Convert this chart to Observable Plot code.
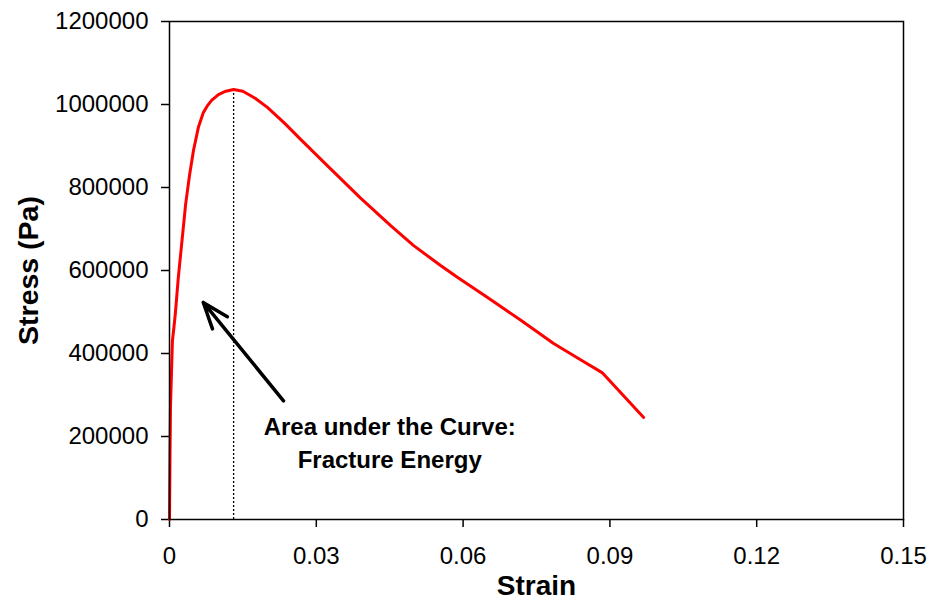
<!DOCTYPE html>
<html>
<head>
<meta charset="utf-8">
<script src="https://cdn.jsdelivr.net/npm/d3@7"></script>
<script src="https://cdn.jsdelivr.net/npm/@observablehq/plot@0.6"></script>
<style>
  html, body { margin: 0; padding: 0; background: #fff; }
  #chart svg { display: block; }
</style>
</head>
<body>
<div id="chart"></div>
<script>
const strain = [0, 0.0001, 0.0002, 0.0004, 0.0006, 0.0009, 0.0012, 0.0018, 0.0027, 0.0033, 0.0041, 0.0049, 0.0059, 0.0069, 0.0078, 0.0086, 0.0100, 0.0115, 0.0131, 0.0150, 0.0175, 0.0200, 0.0235, 0.0268, 0.0323, 0.0390, 0.0452, 0.0499, 0.0554, 0.0589, 0.0650, 0.0718, 0.0785, 0.0840, 0.0884, 0.0969];
const stress = [0, 150000, 270000, 352000, 431000, 462000, 497000, 583000, 689000, 760000, 830000, 889000, 945000, 980000, 998000, 1010000, 1024000, 1032000, 1036000, 1032000, 1015000, 993000, 955000, 916000, 852000, 775000, 708000, 660000, 612000, 583000, 535000, 480000, 424000, 385000, 354000, 246000];

const xTicks = [0, 0.03, 0.06, 0.09, 0.12, 0.15];
const yTicks = [0, 200000, 400000, 600000, 800000, 1000000, 1200000];

const peakStrain = [0.0131];
const peakStress = [1036000];

// annotation (in data units)
const arrowFrom = {strain: 0.0233, stress: 286000};
const arrowTo = {strain: 0.0069, stress: 523000};
const noteLines = ["Area under the Curve:", "Fracture Energy"];
const noteStrain = [0.045, 0.045];
const noteStress = [221000, 142000];

const curve = strain.map((s, i) => ({strain: s, stress: stress[i]}));
const font = "'Liberation Sans', Arial, sans-serif";

const chart = Plot.plot({
  width: 929,
  height: 601,
  marginLeft: 169,
  marginRight: 26,
  marginTop: 21,
  marginBottom: 82,
  style: {fontFamily: font, background: "#fff", color: "#000"},
  x: {domain: [0, 0.15], ticks: xTicks, tickFormat: d => String(d), label: null},
  y: {domain: [0, 1200000], ticks: yTicks, tickFormat: d => String(d), label: null},
  marks: [
    Plot.axisX({ticks: xTicks, tickFormat: d => String(d), tickSize: 8, tickPadding: 19, fontSize: 24, label: null, stroke: "#000", strokeWidth: 1.5}),
    Plot.axisY({ticks: yTicks, tickFormat: d => String(d), tickSize: 8, tickPadding: 13, fontSize: 24, label: null, stroke: "#000", strokeWidth: 1.5}),
    Plot.ruleX(peakStrain, {x: d => d, y1: 0, y2: peakStress[0], stroke: "#000", strokeWidth: 1.3, strokeDasharray: "2,2"}),
    Plot.line(curve, {x: "strain", y: "stress", stroke: "#ff0000", strokeWidth: 3, strokeLinejoin: "round"}),
    Plot.arrow([0], {x1: arrowFrom.strain, y1: arrowFrom.stress, x2: arrowTo.strain, y2: arrowTo.stress, stroke: "#000", strokeWidth: 3.5, headLength: 12, headAngle: 40}),
    Plot.text(noteLines, {x: (d, i) => noteStrain[i], y: (d, i) => noteStress[i], text: d => d, fontSize: 24, fontWeight: "bold", fill: "#000"}),
    Plot.frame({stroke: "#000", strokeWidth: 1.5}),
    Plot.text(["Strain"], {frameAnchor: "bottom", lineAnchor: "middle", dy: 67, text: d => d, fontSize: 28, fontWeight: "bold", fill: "#000"}),
    Plot.text(["Stress (Pa)"], {frameAnchor: "left", dx: -141, rotate: -90, textAnchor: "middle", text: d => d, fontSize: 28.5, fontWeight: "bold", fill: "#000"})
  ]
});
document.getElementById("chart").appendChild(chart);
</script>
</body>
</html>
